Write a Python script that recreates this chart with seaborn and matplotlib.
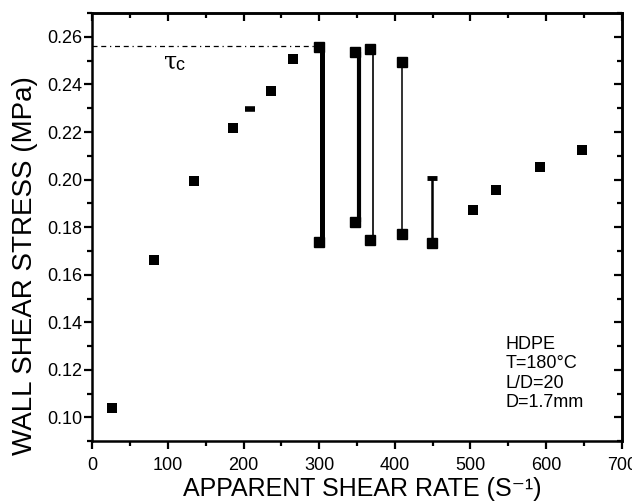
import matplotlib
matplotlib.use("Agg")
import matplotlib.pyplot as plt
import matplotlib.transforms as mtransforms
from matplotlib.ticker import MultipleLocator, FormatStrFormatter
import seaborn as sns
import pandas as pd

# ---- data ----
rate = [26, 81, 135, 186, 209, 236, 265, 503, 534, 592, 647]
stress = [0.104, 0.1663, 0.1995, 0.2217, 0.2298, 0.2374, 0.2507, 0.1874, 0.1958, 0.2055, 0.2126]

osc_rate = [300, 348, 367, 410, 449]
osc_top = [0.2559, 0.2535, 0.2547, 0.2495, 0.2008]
osc_bottom = [0.1736, 0.1820, 0.1745, 0.1773, 0.1735]

tau_c = 0.256
info_lines = ["HDPE", "T=180°C", "L/D=20", "D=1.7mm"]

# ---- style ----
sns.set_theme(style="ticks")
plt.rcParams["font.family"] = ["Liberation Sans", "DejaVu Sans"]
for k in ["text.color", "axes.labelcolor", "xtick.color", "ytick.color", "axes.edgecolor"]:
    plt.rcParams[k] = "black"

fig = plt.figure(figsize=(6.32, 5.03), dpi=100)
ax = fig.add_axes([0.146, 0.1227, 0.8377, 0.8513])

df = pd.DataFrame({"rate": rate, "stress": stress})
flat = [False, False, False, False, True, False, False, False, False, False, False]
sq = df[[not f for f in flat]]
fl = df[flat]
sns.scatterplot(data=sq, x="rate", y="stress", marker="s", s=46, color="black",
                edgecolor="black", linewidth=0, ax=ax, zorder=3)
ax.plot(fl["rate"], fl["stress"], linestyle="none", marker="_", markersize=7.5,
        markeredgewidth=4, color="black", zorder=3)

# oscillation ranges
line_widths = [3.6, 3.0, 1.2, 1.4, 1.8]
line_colors = ["black", "black", "black", "#333333", "black"]
line_offsets = [2.0, 2.4, 2.0, 0.0, 0.0]  # points, horizontal
top_markers = ["s", "s", "s", "s", "_"]
for i in range(len(osc_rate)):
    tr = ax.transData + mtransforms.ScaledTranslation(line_offsets[i] / 72, 0, fig.dpi_scale_trans)
    ax.plot([osc_rate[i], osc_rate[i]], [osc_bottom[i], osc_top[i]], color=line_colors[i],
            lw=line_widths[i], transform=tr, solid_capstyle="butt", zorder=2)
    ax.plot([osc_rate[i]], [osc_bottom[i]], marker="s", markersize=6.5, color="black",
            linestyle="none", zorder=3)
    if top_markers[i] == "s":
        ax.plot([osc_rate[i]], [osc_top[i]], marker="s", markersize=6.5, color="black",
                linestyle="none", zorder=3)
    else:
        ax.plot([osc_rate[i]], [osc_top[i]], marker="_", markersize=7, markeredgewidth=3.5,
                color="black", linestyle="none", zorder=3)

# critical stress line
ax.plot([0, osc_rate[0]], [tau_c, tau_c], color="black", lw=0.9,
        linestyle=(0, (4, 3, 4, 3, 1, 3)), zorder=1)
ax.text(103, 0.2495, "τ", fontsize=17, ha="center", va="center",
        family=["DejaVu Serif", "DejaVu Sans"])
ax.text(110, 0.2478, "c", fontsize=13, ha="left", va="center")

ax.text(0.78, 0.247, "\n".join(info_lines), transform=ax.transAxes, fontsize=13,
        ha="left", va="top", linespacing=1.2)

ax.set_xlim(0, 700)
ax.set_ylim(0.09, 0.27)
ax.xaxis.set_major_locator(MultipleLocator(100))
ax.xaxis.set_minor_locator(MultipleLocator(50))
ax.yaxis.set_major_locator(MultipleLocator(0.02))
ax.yaxis.set_minor_locator(MultipleLocator(0.01))
ax.yaxis.set_major_formatter(FormatStrFormatter("%.2f"))

for s in ax.spines.values():
    s.set_linewidth(1.8)
    s.set_color("black")

ax.tick_params(which="both", left=True, bottom=True, top=False, right=False,
               direction="out", color="black", labelsize=13, width=1.6)
ax.tick_params(which="major", length=6)
ax.tick_params(axis="x", which="major", pad=5)
ax.tick_params(axis="y", which="major", pad=1)
ax.tick_params(which="minor", length=3.5)

# inward ticks on top and right spines
ax_t = ax.secondary_xaxis("top")
ax_t.xaxis.set_major_locator(MultipleLocator(100))
ax_t.xaxis.set_minor_locator(MultipleLocator(50))
ax_t.tick_params(which="both", direction="in", labeltop=False, width=1.6, color="black")
ax_t.tick_params(which="major", length=6)
ax_t.tick_params(which="minor", length=3.5)
ax_r = ax.secondary_yaxis("right")
ax_r.yaxis.set_major_locator(MultipleLocator(0.02))
ax_r.yaxis.set_minor_locator(MultipleLocator(0.01))
ax_r.tick_params(which="both", direction="in", labelright=False, width=1.6, color="black")
ax_r.tick_params(which="major", length=6)
ax_r.tick_params(which="minor", length=3.5)
for s in list(ax_t.spines.values()) + list(ax_r.spines.values()):
    s.set_linewidth(1.8)

ax.set_xlabel("APPARENT SHEAR RATE (S⁻¹)", fontsize=18, va="center")
ax.xaxis.set_label_coords(0.51, -0.111)
ax.set_ylabel("WALL SHEAR STRESS (MPa)", fontsize=20, va="center")
ax.yaxis.set_label_coords(-0.128, 0.41)

fig.savefig("out.png", dpi=100)
